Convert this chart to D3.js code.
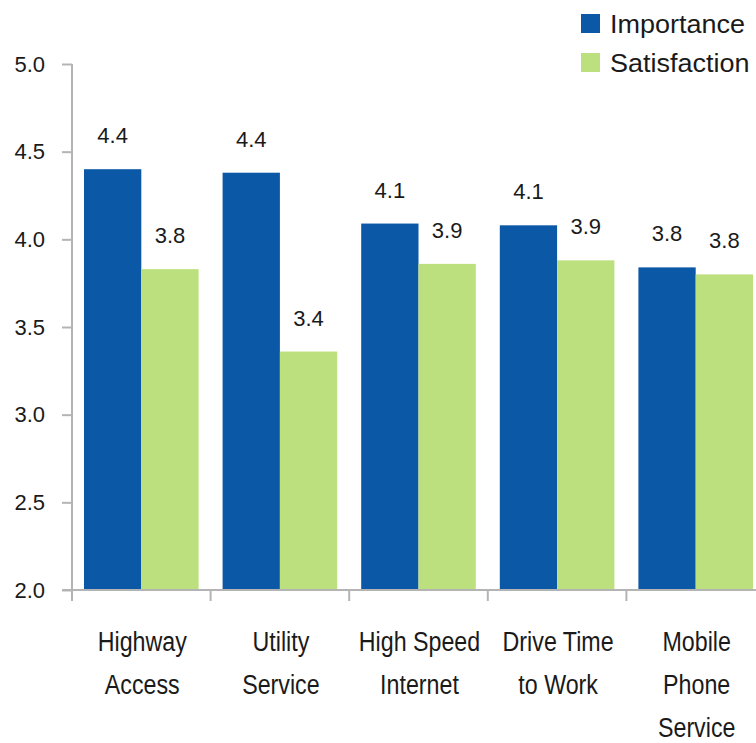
<!DOCTYPE html>
<html>
<head>
<meta charset="utf-8">
<script src="https://cdn.jsdelivr.net/npm/d3@7"></script>
<style>
  body { margin: 0; background: #fff; }
  text { font-family: "Liberation Sans", Arial, sans-serif; fill: #1a1a1a; }
</style>
</head>
<body>
<div id="chart"></div>
<script>
const height = 743,
    width = 756,
    margin = ({ top: 64, right: -9, bottom: 153, left: 72 });

// data
const categories = ["Highway Access", "Utility Service", "High Speed Internet", "Drive Time to Work", "Mobile Phone Service"];
const categoryLines = [["Highway", "Access"], ["Utility", "Service"], ["High Speed", "Internet"], ["Drive Time", "to Work"], ["Mobile", "Phone", "Service"]];
const seriesNames = ["Importance", "Satisfaction"];
const importance = [4.40, 4.38, 4.09, 4.08, 3.84];
const satisfaction = [3.83, 3.36, 3.86, 3.88, 3.80];
const yTicks = [2.0, 2.5, 3.0, 3.5, 4.0, 4.5, 5.0];
const colors = ["#0b59a6", "#bce07e"];

const data = categories.map((c, i) => ({
  cat: c,
  lines: categoryLines[i],
  values: [
    { key: seriesNames[0], value: importance[i] },
    { key: seriesNames[1], value: satisfaction[i] }
  ]
}));

const svg = d3.select("#chart")
    .append("svg")
    .attr("width", width)
    .attr("height", height)
    .attr("viewBox", [0, 0, width, height]);

let x = d3.scaleBand()
    .domain(categories)
    .range([margin.left, width - margin.right])
    .padding(0);

let x1 = d3.scaleBand()
    .domain(seriesNames)
    .range([12, x.bandwidth() - 12]);

let y = d3.scaleLinear()
    .domain([2, 5])
    .range([height - margin.bottom, margin.top]);

let color = d3.scaleOrdinal().domain(seriesNames).range(colors);

const axisColor = "#b4b4b4";

// bars
const groups = svg.append("g")
  .selectAll("g")
  .data(data)
  .join("g")
    .attr("transform", d => `translate(${x(d.cat)},0)`);

groups.selectAll("rect")
  .data(d => d.values)
  .join("rect")
    .attr("x", d => x1(d.key))
    .attr("width", x1.bandwidth())
    .attr("y", d => y(d.value))
    .attr("height", d => y(2) - y(d.value))
    .attr("fill", d => color(d.key));

// value labels
groups.selectAll("text.val")
  .data(d => d.values)
  .join("text")
    .attr("class", "val")
    .attr("x", d => x1(d.key) + x1.bandwidth() / 2)
    .attr("y", d => y(d.value) - 26)
    .attr("text-anchor", "middle")
    .attr("font-size", 22)
    .text(d => d.value.toFixed(1));

// y axis
const yAxis = svg.append("g")
    .attr("transform", `translate(${margin.left},0)`)
    .call(d3.axisLeft(y)
      .tickValues(yTicks)
      .tickFormat(d3.format(".1f"))
      .tickSize(10)
      .tickPadding(17)
      .tickSizeOuter(0));
yAxis.select(".domain").remove();
yAxis.selectAll("line").attr("stroke", axisColor).attr("stroke-width", 2);
yAxis.selectAll("text")
    .attr("font-size", 22)
    .attr("fill", "#1a1a1a")
    .style("font-family", null);

svg.append("line")
    .attr("x1", margin.left).attr("x2", margin.left)
    .attr("y1", y(5)).attr("y2", y(2) + 11)
    .attr("stroke", axisColor).attr("stroke-width", 2);

// x axis
svg.append("line")
    .attr("x1", margin.left - 10).attr("x2", width)
    .attr("y1", y(2)).attr("y2", y(2))
    .attr("stroke", axisColor).attr("stroke-width", 2);

svg.append("g")
  .selectAll("line")
  .data(categories)
  .join("line")
    .attr("x1", d => x(d)).attr("x2", d => x(d))
    .attr("y1", y(2)).attr("y2", y(2) + 11)
    .attr("stroke", axisColor).attr("stroke-width", 2);

// category labels, condensed a little to look like the narrow face
const xLabels = svg.append("g")
  .selectAll("g")
  .data(data)
  .join("g")
    .attr("transform", d => `translate(${x(d.cat) + x.bandwidth() / 2 + 1},${y(2) + 61}) scale(0.83,1)`)
  .append("text")
    .attr("text-anchor", "middle")
    .attr("font-size", 28);

xLabels.selectAll("tspan")
  .data(d => d.lines)
  .join("tspan")
    .attr("x", 0)
    .attr("dy", (d, i) => i === 0 ? 0 : 43)
    .text(d => d);

// legend
const legend = svg.append("g")
  .selectAll("g")
  .data(seriesNames)
  .join("g")
    .attr("transform", (d, i) => `translate(581,${14 + i * 39})`);

legend.append("rect")
    .attr("width", 19)
    .attr("height", 19)
    .attr("fill", d => color(d));

legend.append("text")
    .attr("transform", "translate(29,19) scale(1.08,1)")
    .attr("font-size", 25)
    .text(d => d);
</script>
</body>
</html>
